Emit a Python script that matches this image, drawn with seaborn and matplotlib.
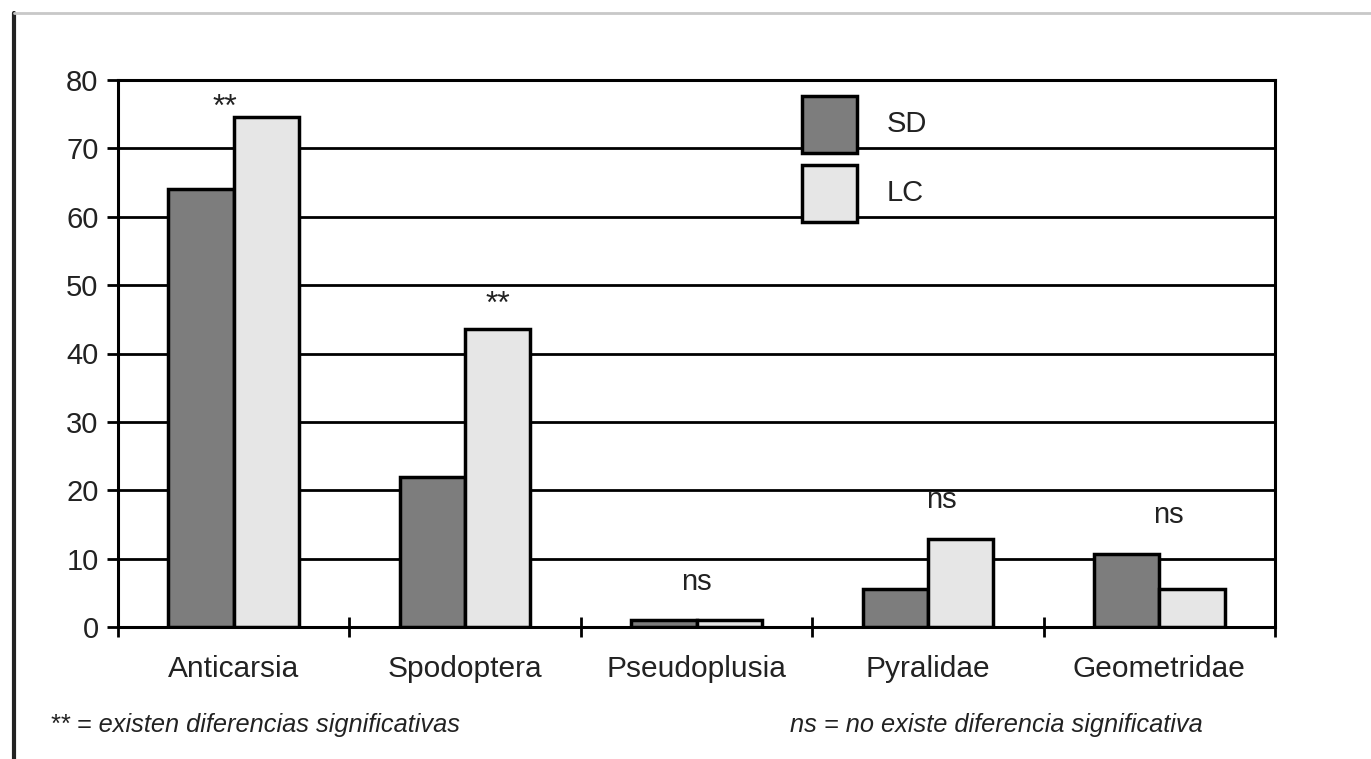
import matplotlib
matplotlib.use("Agg")
import matplotlib.pyplot as plt
from matplotlib.patches import Patch
from matplotlib.lines import Line2D
import seaborn as sns
import pandas as pd
import numpy as np

categories = ["Anticarsia", "Spodoptera", "Pseudoplusia", "Pyralidae", "Geometridae"]
sd_values = [64.0, 21.9, 1.0, 5.6, 10.7]
lc_values = [74.6, 43.6, 1.0, 12.9, 5.6]
series = ["SD", "LC"]
significance = ["**", "**", "ns", "ns", "ns"]
y_ticks = [0, 10, 20, 30, 40, 50, 60, 70, 80]
note_left = "** = existen diferencias significativas"
note_right = "ns = no existe diferencia significativa"

colors = {"SD": "#7d7d7d", "LC": "#e6e6e6"}

df = pd.DataFrame({
    "cat": categories * 2,
    "serie": ["SD"] * len(categories) + ["LC"] * len(categories),
    "val": sd_values + lc_values,
})

sns.set_theme(style="white")
plt.rcParams["font.family"] = ["Liberation Sans", "DejaVu Sans"]

fig = plt.figure(figsize=(13.71, 7.59), dpi=100)
ax = fig.add_axes([118 / 1371, 1 - 627 / 759, (1275 - 118) / 1371, (627 - 80) / 759])

sns.barplot(data=df, x="cat", y="val", hue="serie", order=categories, hue_order=series,
            palette=colors, width=0.565, edgecolor="black", linewidth=2.5,
            saturation=1, ax=ax, legend=False, zorder=3)

ax.set_ylim(0, 80)
ax.set_xlim(-0.5, len(categories) - 0.5)
ax.set_yticks(y_ticks)
ax.set_yticklabels([str(v) for v in y_ticks], fontsize=21, color="#222222")
ax.set_xticks(range(len(categories)))
ax.set_xticklabels(categories, fontsize=21.5, color="#222222")
ax.set_xticks(np.arange(-0.5, len(categories), 1.0), minor=True)
ax.tick_params(axis="x", which="major", length=0, pad=20)
ax.tick_params(axis="x", which="minor", length=14, width=2, direction="inout", color="black", bottom=True)
ax.tick_params(axis="y", which="major", length=8, width=2, direction="out", color="black", left=True, pad=6)
ax.set_xlabel("")
ax.set_ylabel("")

ax.yaxis.grid(True, color="black", linewidth=2)
ax.set_axisbelow(True)
for s in ["left", "right", "bottom", "top"]:
    ax.spines[s].set_visible(True)
    ax.spines[s].set_color("black")
    ax.spines[s].set_linewidth(2.2)

# significance marks
offsets_x = [-0.04, 0.14, 0.0, 0.06, 0.04]
offsets_y = [-0.9, 1.3, 3.6, 3.6, 3.6]
for i, (sig, a, b) in enumerate(zip(significance, sd_values, lc_values)):
    top = max(a, b)
    ax.text(i + offsets_x[i], top + offsets_y[i], sig,
            ha="center", va="bottom", fontsize=21 if sig == "ns" else 23,
            color="#222222", zorder=5)

handles = [Patch(facecolor=colors[s], edgecolor="black", linewidth=2.5) for s in series]
leg = ax.legend(handles, series, loc="upper left",
                bbox_to_anchor=((802 - 118) / 1157, (627 - 96) / 547),
                frameon=False, fontsize=19, handlelength=2.1, handleheight=2.95,
                labelspacing=0.45, handletextpad=1.1, borderpad=0, borderaxespad=0)
for t in leg.get_texts():
    t.set_color("#222222")
    t.set_fontsize(21)

fig.text(50 / 1371, 1 - 725 / 759, note_left, fontsize=18.3, style="italic",
         ha="left", va="center", color="#222222")
fig.text(790 / 1371, 1 - 725 / 759, note_right, fontsize=18.3, style="italic",
         ha="left", va="center", color="#222222")

# outer frame lines
fig.add_artist(Line2D([14 / 1371, 14 / 1371], [0, 1 - 13 / 759], transform=fig.transFigure,
                      color="#222222", linewidth=3))
fig.add_artist(Line2D([14 / 1371, 1], [1 - 13 / 759, 1 - 13 / 759], transform=fig.transFigure,
                      color="#c8c8c8", linewidth=2))

fig.savefig("out.png", dpi=100)
